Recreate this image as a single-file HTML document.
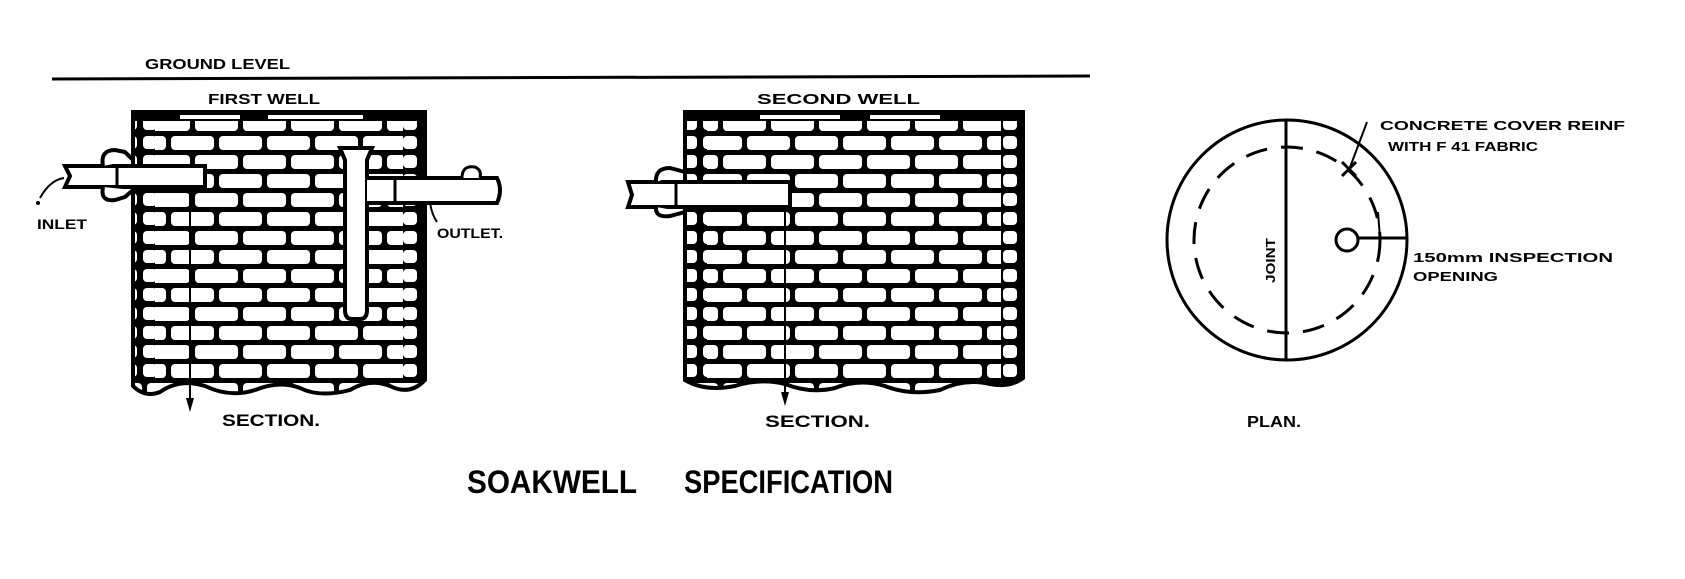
<!DOCTYPE html>
<html><head><meta charset="utf-8"><style>
html,body{margin:0;padding:0;background:#fff;}
svg{display:block;}
text{font-family:"Liberation Sans",sans-serif;font-weight:bold;fill:#000;}
</style></head><body>
<svg width="1685" height="579" viewBox="0 0 1685 579" xmlns="http://www.w3.org/2000/svg">
<defs>
<pattern id="brick" x="0" y="0" width="96" height="38" patternUnits="userSpaceOnUse">
<rect width="96" height="38" fill="#000"/>
<rect x="3" y="3" width="43" height="14" rx="4" fill="#fff"/>
<rect x="51" y="3" width="43" height="14" rx="4" fill="#fff"/>
<rect x="-21" y="22" width="43" height="14" rx="4" fill="#fff"/>
<rect x="27" y="22" width="43" height="14" rx="4" fill="#fff"/>
<rect x="75" y="22" width="43" height="14" rx="4" fill="#fff"/>
</pattern>
<pattern id="edge" x="0" y="0" width="20" height="19" patternUnits="userSpaceOnUse">
<rect width="20" height="19" fill="#000"/>
<rect x="3" y="3" width="14" height="13" rx="4" fill="#fff"/>
</pattern>
</defs>

<!-- ground level -->
<text x="145" y="69" font-size="15" textLength="145" lengthAdjust="spacingAndGlyphs">GROUND LEVEL</text>
<line x1="52" y1="79" x2="1090" y2="76" stroke="#000" stroke-width="3"/>

<!-- FIRST WELL -->
<text x="208" y="104" font-size="15" textLength="112" lengthAdjust="spacingAndGlyphs">FIRST WELL</text>
<path d="M133 112 H425 V380 Q410 396 390 386 Q370 378 350 390 Q320 398 300 388 Q280 380 255 390 Q230 398 205 386 Q180 378 160 392 Q145 398 133 386 Z" fill="url(#brick)" stroke="#000" stroke-width="4"/>
<rect x="135" y="114" width="20" height="266" fill="url(#edge)"/>
<rect x="403" y="114" width="20" height="266" fill="url(#edge)"/>
<rect x="135" y="113" width="288" height="8" fill="#000"/>
<rect x="180" y="115" width="60" height="4" fill="#fff"/>
<rect x="268" y="115" width="95" height="4" fill="#fff"/>
<!-- inlet pipe -->
<path d="M65 166 L205 166 L205 187 L65 187 L70 176 Z" fill="#fff" stroke="#000" stroke-width="4"/>
<line x1="117" y1="166" x2="117" y2="187" stroke="#000" stroke-width="3"/>
<path d="M103 166 Q100 150 115 150 L125 152 L133 160" fill="#fff" stroke="#000" stroke-width="4"/>
<path d="M103 187 Q100 202 115 200 L125 197 L133 190" fill="#fff" stroke="#000" stroke-width="4"/>
<path d="M64 178 Q50 180 40 198" fill="none" stroke="#000" stroke-width="2"/>
<circle cx="38" cy="203" r="2" fill="#000"/>
<text x="37" y="229" font-size="14" textLength="50" lengthAdjust="spacingAndGlyphs">INLET</text>
<!-- T pipe -->
<path d="M340 148 L372 148 L367 160 L367 310 Q367 319 360 319 L352 319 Q345 319 345 310 L345 160 Z" fill="#fff" stroke="#000" stroke-width="4"/>
<path d="M367 178 L497 178 Q503 190 497 203 L367 203" fill="#fff" stroke="#000" stroke-width="4"/>
<line x1="395" y1="178" x2="395" y2="203" stroke="#000" stroke-width="3"/>
<path d="M462 178 Q462 165 475 167 Q482 170 480 178" fill="#fff" stroke="#000" stroke-width="3"/>
<path d="M430 203 Q432 215 437 222" fill="none" stroke="#000" stroke-width="2"/>
<text x="437" y="238" font-size="14" textLength="66" lengthAdjust="spacingAndGlyphs">OUTLET.</text>
<!-- section line -->
<line x1="190" y1="192" x2="190" y2="405" stroke="#000" stroke-width="2"/>
<path d="M186 398 L194 398 L190 412 Z" fill="#000"/>
<text x="222" y="426" font-size="17" textLength="98" lengthAdjust="spacingAndGlyphs">SECTION.</text>

<!-- SECOND WELL -->
<text x="757" y="104" font-size="15" textLength="163" lengthAdjust="spacingAndGlyphs">SECOND  WELL</text>
<path d="M685 112 H1023 V378 Q1010 388 990 384 Q965 378 940 390 Q910 396 885 386 Q860 378 835 388 Q810 394 785 384 Q760 378 735 386 Q705 392 685 380 Z" fill="url(#brick)" stroke="#000" stroke-width="4"/>
<rect x="687" y="114" width="20" height="266" fill="url(#edge)"/>
<rect x="1001" y="114" width="20" height="266" fill="url(#edge)"/>
<rect x="687" y="113" width="334" height="8" fill="#000"/>
<rect x="760" y="115" width="80" height="4" fill="#fff"/>
<rect x="870" y="115" width="70" height="4" fill="#fff"/>
<path d="M628 182 L790 182 L790 207 L628 207 L632 195 Z" fill="#fff" stroke="#000" stroke-width="4"/>
<line x1="676" y1="182" x2="676" y2="207" stroke="#000" stroke-width="3"/>
<path d="M656 182 Q655 168 670 168 L685 172" fill="#fff" stroke="#000" stroke-width="4"/>
<path d="M656 207 Q655 218 670 216 L685 212" fill="#fff" stroke="#000" stroke-width="4"/>
<line x1="785" y1="210" x2="785" y2="398" stroke="#000" stroke-width="2"/>
<path d="M781 392 L789 392 L785 406 Z" fill="#000"/>
<text x="765" y="427" font-size="17" textLength="105" lengthAdjust="spacingAndGlyphs">SECTION.</text>

<!-- PLAN -->
<circle cx="1287" cy="240" r="120" fill="none" stroke="#000" stroke-width="3"/>
<circle cx="1287" cy="240" r="93" fill="none" stroke="#000" stroke-width="3" stroke-dasharray="22 14"/>
<line x1="1286" y1="120" x2="1286" y2="360" stroke="#000" stroke-width="3"/>
<text x="0" y="0" font-size="13" transform="translate(1275,283) rotate(-90)" textLength="45" lengthAdjust="spacingAndGlyphs">JOINT</text>
<circle cx="1347" cy="240" r="11" fill="#fff" stroke="#000" stroke-width="3"/>
<line x1="1358" y1="238" x2="1407" y2="238" stroke="#000" stroke-width="3"/>
<line x1="1378" y1="212" x2="1380" y2="238" stroke="#000" stroke-width="2"/>
<line x1="1367" y1="122" x2="1349" y2="170" stroke="#000" stroke-width="2"/>
<path d="M1342 162 L1356 176 M1356 162 L1342 176" stroke="#000" stroke-width="3"/>
<text x="1380" y="130" font-size="13" textLength="245" lengthAdjust="spacingAndGlyphs">CONCRETE COVER REINF</text>
<text x="1388" y="151" font-size="13" textLength="150" lengthAdjust="spacingAndGlyphs">WITH F 41 FABRIC</text>
<text x="1413" y="262" font-size="13" textLength="200" lengthAdjust="spacingAndGlyphs">150mm INSPECTION</text>
<text x="1413" y="281" font-size="13" textLength="85" lengthAdjust="spacingAndGlyphs">OPENING</text>
<text x="1247" y="427" font-size="16" textLength="54" lengthAdjust="spacingAndGlyphs">PLAN.</text>

<text x="467" y="493" font-size="32" textLength="170" lengthAdjust="spacingAndGlyphs">SOAKWELL</text>
<text x="684" y="493" font-size="32" textLength="209" lengthAdjust="spacingAndGlyphs">SPECIFICATION</text>
</svg>
</body></html>
